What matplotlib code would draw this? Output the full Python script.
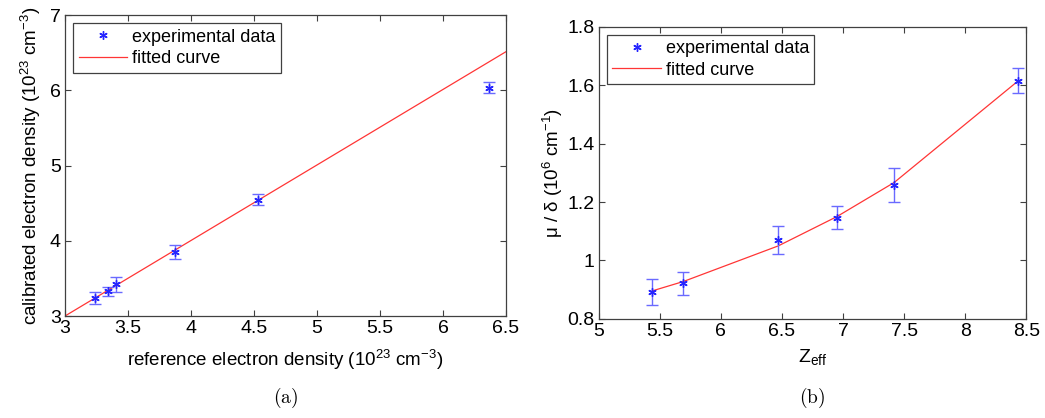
import numpy as np
import matplotlib.pyplot as plt

plt.rcParams['font.family'] = ['Liberation Sans', 'DejaVu Sans']
plt.rcParams['mathtext.fontset'] = 'custom'
plt.rcParams['mathtext.rm'] = 'Liberation Sans'
plt.rcParams['mathtext.it'] = 'Liberation Sans'

# (a) electron density calibration
ref_density = [3.235, 3.339, 3.407, 3.873, 4.529, 6.365]
cal_density = [3.244, 3.330, 3.420, 3.855, 4.546, 6.034]
cal_err = [0.08, 0.06, 0.10, 0.093, 0.07, 0.07]
fit_a_x = [3.0, 6.5]
fit_a_y = [3.0, 6.513]

# (b) mu/delta vs Zeff
zeff = [5.438, 5.692, 6.470, 6.949, 7.419, 8.432]
mu_delta = [0.891, 0.922, 1.070, 1.147, 1.258, 1.616]
mu_err = [0.045, 0.039, 0.047, 0.039, 0.058, 0.043]
fit_b_y = [0.896, 0.928, 1.050, 1.150, 1.267, 1.614]

fig = plt.figure(figsize=(10.45, 4.18), dpi=100)
ax1 = fig.add_axes([0.0622, 0.244, 0.422, 0.720])
ax2 = fig.add_axes([0.573, 0.237, 0.409, 0.699])

star = (6, 2, 0)


def style(ax):
    for s in ax.spines.values():
        s.set_color('#404040')
        s.set_linewidth(0.9)
    ax.tick_params(direction='in', top=True, right=True, length=4,
                   width=0.8, color='#404040', labelsize=14, pad=3)


def add_legend(ax):
    leg = ax.legend(loc='upper left', fontsize=13, fancybox=False,
                    edgecolor='#404040', framealpha=1, borderaxespad=0.45,
                    handlelength=2.7, borderpad=0.3, labelspacing=0.25,
                    handletextpad=0.25)
    leg.get_frame().set_linewidth(0.9)


def draw(ax, x, y, err, fx, fy):
    ax.errorbar(x, y, yerr=err, fmt='none', ecolor='#6a6aff', elinewidth=1,
                capsize=4, capthick=1, zorder=3)
    ax.plot(x, y, ls='none', marker=star, markersize=6, mew=1,
            color='#2525ff', label='experimental data', zorder=4)
    ax.plot(fx, fy, color='#ff3535', lw=0.9, label='fitted curve', zorder=2)


draw(ax1, ref_density, cal_density, cal_err, fit_a_x, fit_a_y)
ax1.set_xlim(3, 6.5)
ax1.set_ylim(3, 7)
ax1.set_xticks([3, 3.5, 4, 4.5, 5, 5.5, 6, 6.5])
ax1.set_xticklabels(['3', '3.5', '4', '4.5', '5', '5.5', '6', '6.5'])
ax1.set_yticks([3, 4, 5, 6, 7])
ax1.set_xlabel(r'reference electron density (10$^{23}$ cm$^{-3}$)', fontsize=13.5, labelpad=8)
ax1.set_ylabel(r'calibrated electron density (10$^{23}$ cm$^{-3}$)', fontsize=13.5, labelpad=5)
style(ax1)
add_legend(ax1)

draw(ax2, zeff, mu_delta, mu_err, zeff, fit_b_y)
ax2.set_xlim(5, 8.5)
ax2.set_ylim(0.8, 1.8)
ax2.set_xticks([5, 5.5, 6, 6.5, 7, 7.5, 8, 8.5])
ax2.set_xticklabels(['5', '5.5', '6', '6.5', '7', '7.5', '8', '8.5'])
ax2.set_yticks([0.8, 1.0, 1.2, 1.4, 1.6, 1.8])
ax2.set_yticklabels(['0.8', '1', '1.2', '1.4', '1.6', '1.8'])
ax2.set_xlabel(r'Z$_{\mathrm{eff}}$', fontsize=14, labelpad=5)
ax2.set_ylabel('\u03bc / \u03b4 (10$^{6}$ cm$^{-1}$)', fontsize=13.5, labelpad=2)
style(ax2)
add_legend(ax2)

fig.text(0.273, 0.035, r'$\mathrm{(a)}$', math_fontfamily='cm', fontsize=14, ha='center')
fig.text(0.777, 0.035, r'$\mathrm{(b)}$', math_fontfamily='cm', fontsize=14, ha='center')

fig.savefig('out.png', dpi=100)
